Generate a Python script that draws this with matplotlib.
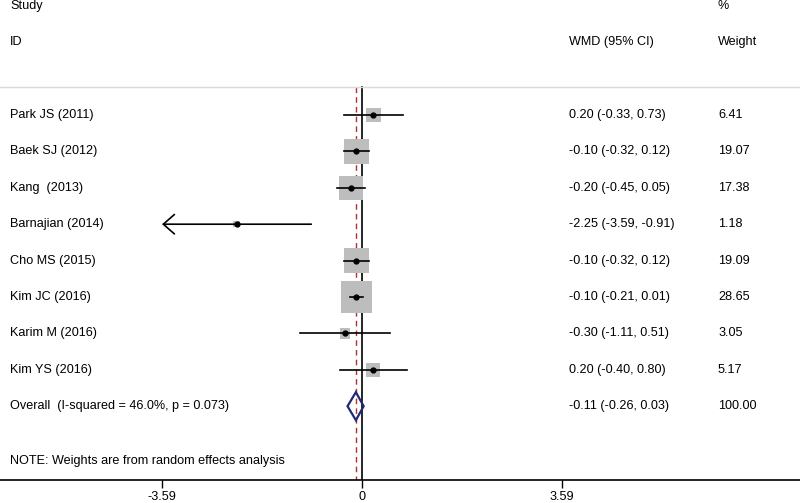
import matplotlib.pyplot as plt
import numpy as np

plt.rcParams['font.family'] = ['Liberation Sans', 'DejaVu Sans']

studies = ['Park JS (2011)', 'Baek SJ (2012)', 'Kang  (2013)', 'Barnajian (2014)',
           'Cho MS (2015)', 'Kim JC (2016)', 'Karim M (2016)', 'Kim YS (2016)']
wmd = [0.20, -0.10, -0.20, -2.25, -0.10, -0.10, -0.30, 0.20]
ci_lo = [-0.33, -0.32, -0.45, -3.59, -0.32, -0.21, -1.11, -0.40]
ci_hi = [0.73, 0.12, 0.05, -0.91, 0.12, 0.01, 0.51, 0.80]
weights = [6.41, 19.07, 17.38, 1.18, 19.09, 28.65, 3.05, 5.17]

overall_label = 'Overall  (I-squared = 46.0%, p = 0.073)'
overall = -0.11
overall_lo = -0.26
overall_hi = 0.03

xticks = [-3.59, 0, 3.59]
xmin_clip = -3.59

fig = plt.figure(figsize=(8.0, 5.03), dpi=100)
ax = fig.add_axes([0, 23 / 503, 1, 480 / 503])

px_per_unit = 55.7
x0 = 362
ax.set_xlim(-x0 / px_per_unit, (800 - x0) / px_per_unit)
row_px = 36.4
ax.set_ylim((480 - 115) / row_px, -115 / row_px)

fs = 9.1
x_lab = -x0 / px_per_unit + 10 / px_per_unit
x_est = (569 - x0) / px_per_unit
x_wt = (718 - x0) / px_per_unit

# headers
ax.text(x_lab, -3.0, 'Study', fontsize=fs, va='center')
ax.text(x_lab, -2.0, 'ID', fontsize=fs, va='center')
ax.text(x_est, -2.0, 'WMD (95% CI)', fontsize=fs, va='center')
ax.text(x_wt, -3.0, '%', fontsize=fs, va='center')
ax.text(x_wt, -2.0, 'Weight', fontsize=fs, va='center')
ax.axhline(-0.77, color='#d9d9d9', lw=1)

# reference lines
ax.plot([0, 0], [-0.77, 20], color='black', lw=1.2, zorder=1)
ax.plot([overall, overall], [-0.77, 20], color='#b03030', lw=1, ls=(0, (4, 3)), zorder=1)

box_scale = 5.9  # px per sqrt(weight)
for i, (name, m, lo, hi, w) in enumerate(zip(studies, wmd, ci_lo, ci_hi, weights)):
    side = box_scale * np.sqrt(w)
    half_x = side / 2 / px_per_unit
    half_y = side / 2 / row_px
    ax.add_patch(plt.Rectangle((m - half_x, i - half_y), 2 * half_x, 2 * half_y,
                               color='#bdbdbd', lw=0, zorder=2))
    if lo <= xmin_clip:
        ax.annotate('', xy=(xmin_clip, i), xytext=(hi, i),
                    arrowprops=dict(arrowstyle='->,head_length=0.8,head_width=0.7',
                                    color='black', lw=1.2, shrinkA=0, shrinkB=0),
                    zorder=3)
    else:
        ax.plot([lo, hi], [i, i], color='black', lw=1.2, zorder=3)
    ax.plot(m, i, 'o', color='black', ms=3.5, zorder=4)
    ax.text(x_lab, i, name, fontsize=fs, va='center')
    ax.text(x_est, i, f'{m:.2f} ({lo:.2f}, {hi:.2f})', fontsize=fs, va='center')
    ax.text(x_wt, i, f'{w:.2f}', fontsize=fs, va='center')

# overall diamond
r = len(studies)
dh = 14 / row_px
ax.fill([overall_lo, overall, overall_hi, overall, overall_lo],
        [r, r - dh, r, r + dh, r], facecolor='none', edgecolor='#1f2a78', lw=1.6, zorder=4)
ax.text(x_lab, r, overall_label, fontsize=fs, va='center')
ax.text(x_est, r, f'{overall:.2f} ({overall_lo:.2f}, {overall_hi:.2f})', fontsize=fs, va='center')
ax.text(x_wt, r, '100.00', fontsize=fs, va='center')

ax.text(x_lab, (461 - 115) / row_px, 'NOTE: Weights are from random effects analysis',
        fontsize=fs, va='center')

for s in ['top', 'left', 'right']:
    ax.spines[s].set_visible(False)
ax.spines['bottom'].set_linewidth(1.2)
ax.set_yticks([])
ax.set_xticks(xticks)
ax.set_xticklabels(['-3.59', '0', '3.59'])
ax.tick_params(axis='x', length=6, width=1, labelsize=fs, pad=2)

fig.savefig('out.png', dpi=100)
